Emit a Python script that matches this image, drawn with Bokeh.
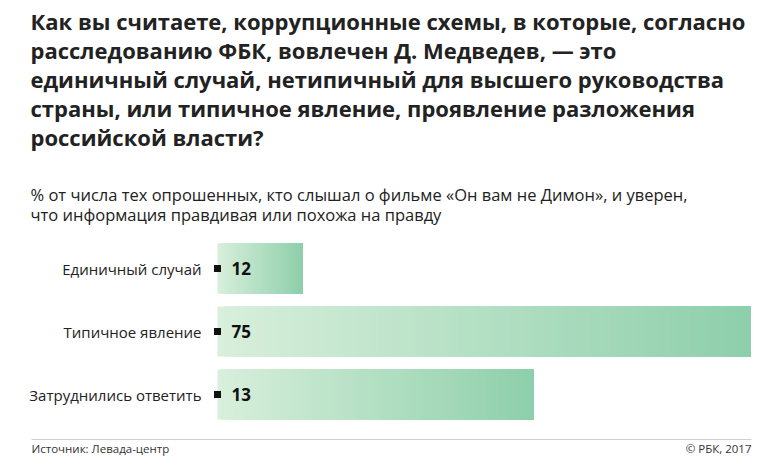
from bokeh.plotting import figure
from bokeh.models import Range1d, Label, ColumnDataSource
from bokeh.core.properties import value
from bokeh.embed import file_html
from bokeh.resources import INLINE

# ---- data ----
categories = ["Единичный случай", "Типичное явление", "Затруднились ответить"]
values = [12, 75, 13]                # printed values
bar_lengths = [12, 75, 44.5]         # bar lengths as drawn in the reference
value_labels = ["12", "75", "13"]
title_lines = [
    "Как вы считаете, коррупционные схемы, в которые, согласно",
    "расследованию ФБК, вовлечен Д. Медведев, — это",
    "единичный случай, нетипичный для высшего руководства",
    "страны, или типичное явление, проявление разложения",
    "российской власти?",
]
subtitle_lines = [
    "% от числа тех опрошенных, кто слышал о фильме «Он вам не Димон», и уверен,",
    "что информация правдивая или похожа на правду",
]
source_text = "Источник: Левада-центр"
copyright_text = "© РБК, 2017"

# ---- layout ----
W, H = 768, 469
bar_x0_px = 217          # bar start in px
bar_full_px = 533        # px for max value
vmax = max(bar_lengths)
ppu = bar_full_px / vmax
x_start = -bar_x0_px / ppu
x_end = (W - bar_x0_px) / ppu

p = figure(width=W, height=H, output_backend="svg", toolbar_location=None,
           x_range=Range1d(x_start, x_end), y_range=Range1d(H, 0),
           min_border=0, min_border_left=0, min_border_right=0,
           min_border_top=0, min_border_bottom=0)
p.axis.visible = False
p.grid.visible = False
p.outline_line_color = None
p.background_fill_color = "white"
p.border_fill_color = "white"

bar_y0 = 268
bar_step = 63
bar_h = 50
ys = [bar_y0 + i * bar_step for i in range(len(categories))]


def lerp_color(c1, c2, t):
    a = [int(c1[i:i + 2], 16) for i in (1, 3, 5)]
    b = [int(c2[i:i + 2], 16) for i in (1, 3, 5)]
    return "#%02x%02x%02x" % tuple(round(a[k] + (b[k] - a[k]) * t) for k in range(3))


# gradient bars: overlapping strips, each running to the bar end
c_left, c_right = "#d8efdb", "#8ecfab"
N = 80
L, R, T, B, C = [], [], [], [], []
for y, v in zip(ys, bar_lengths):
    for k in range(N):
        L.append(v * k / N)
        R.append(v)
        T.append(y - bar_h / 2)
        B.append(y + bar_h / 2)
        C.append(lerp_color(c_left, c_right, (k + 0.5) / N))
p.quad(left=L, right=R, top=T, bottom=B, fill_color=C, line_color=None)

src = ColumnDataSource(dict(x=[0] * len(categories), y=ys, cat=categories,
                            lab=value_labels))
p.rect(x="x", y="y", width=7, height=7, width_units="screen",
       height_units="screen", fill_color="#111111", line_color=None, source=src)
p.text(x="x", y="y", text="cat", source=src, x_offset=-16,
       text_align="right", text_baseline="middle", text_font=value("Open Sans"),
       text_font_size="15px", text_color="#222222")
p.text(x="x", y="y", text="lab", source=src, x_offset=14,
       text_align="left", text_baseline="middle", text_font=value("Open Sans"),
       text_font_style="bold", text_font_size="17px", text_color="#111111")

# title
for i, t in enumerate(title_lines):
    p.add_layout(Label(x=30, y=20 + 29 * i, x_units="screen", y_units="data",
                       text=t, text_font="Open Sans", text_font_style="bold",
                       text_font_size="22px", text_color="#222222",
                       text_baseline="alphabetic"))
for i, t in enumerate(subtitle_lines):
    p.add_layout(Label(x=30, y=194 + 20 * i, x_units="screen", y_units="data",
                       text=t, text_font="Open Sans", text_font_size="16.5px",
                       text_color="#222222", text_baseline="alphabetic"))

# footer line
p.line(x=[x_start + 31 / ppu, x_start + 751 / ppu], y=[439, 439],
       line_color="#d0d0d0", line_width=1)
p.add_layout(Label(x=31, y=448, x_units="screen", y_units="data",
                   text=source_text, text_font="Open Sans",
                   text_font_size="11.5px", text_color="#333333",
                   text_baseline="alphabetic"))
p.add_layout(Label(x=751, y=448, x_units="screen", y_units="data",
                   text=copyright_text, text_font="Open Sans",
                   text_font_size="11.5px", text_color="#333333",
                   text_align="right", text_baseline="alphabetic"))

open("out.html", "w").write(file_html(p, INLINE))
